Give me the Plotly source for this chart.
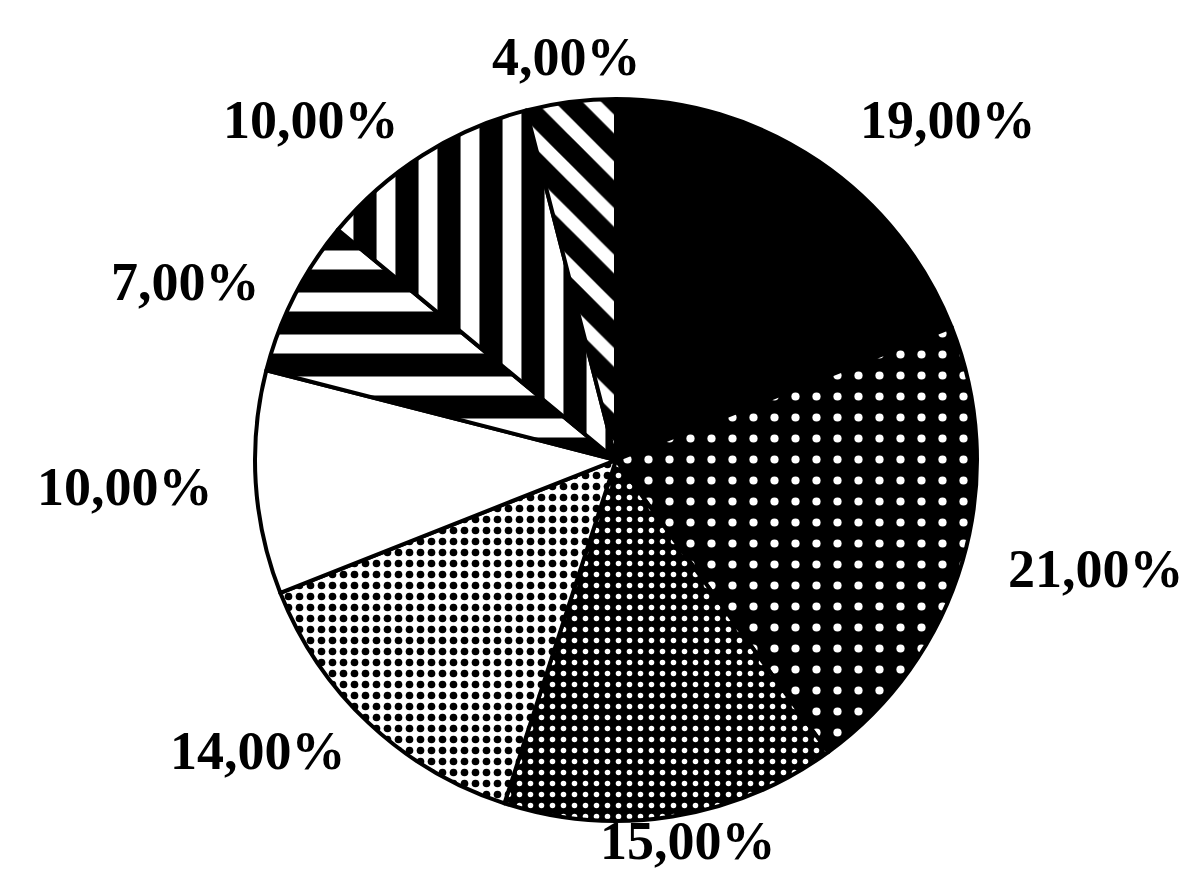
import math
import plotly.graph_objects as go

# slice shares, clockwise from 12 o'clock
shares = [19, 21, 15, 14, 10, 7, 10, 4]
labels = [f"{v:.2f}%".replace(".", ",") for v in shares]

# fill styles per slice (black/white scan with hatching)
pat_shape = ["", ".", ".", ".", "", "-", "|", "\\"]
pat_bg = ["black", "black", "black", "white", "white", "white", "white", "white"]
pat_fg = ["black", "white", "white", "black", "white", "black", "black", "black"]
pat_size = [10, 21, 11, 11, 10, 42, 42, 33]
pat_solid = [0.3, 0.12, 0.2, 0.38, 0.3, 0.55, 0.55, 0.6]

W, H = 1193, 875
cx, cy, rad = 617, 460, 361  # pie centre / radius in px
pie_dx, pie_dy = -9, -8      # small correction for plotly's own placement

# label placement: radial distance (px) and angle nudge (deg) per slice
lbl_r = [469, 483, 386, 468, 501, 474, 463, 407]
lbl_nudge = [9.3, -3.2, -0.4, 8.4, 0.5, -5.0, -10.3, -1.0]

fig = go.Figure()
fig.add_trace(go.Pie(values=shares, sort=False, direction="clockwise", rotation=0,
                     textinfo="none", hoverinfo="none", showlegend=False,
                     marker=dict(colors=pat_bg, line=dict(color="black", width=4),
                                 pattern=dict(shape=pat_shape, bgcolor=pat_bg, fgcolor=pat_fg,
                                              size=pat_size, solidity=pat_solid, fillmode="replace")),
                     domain=dict(x=[(cx + pie_dx - rad) / W, (cx + pie_dx + rad) / W],
                                 y=[1 - (cy + pie_dy + rad) / H, 1 - (cy + pie_dy - rad) / H])))

total = sum(shares)
cum = 0
for i, v in enumerate(shares):
    mid = (cum + v / 2) / total * 360 + lbl_nudge[i]
    cum += v
    px = cx + lbl_r[i] * math.sin(math.radians(mid))
    py = cy - lbl_r[i] * math.cos(math.radians(mid))
    fig.add_annotation(x=px / W, y=1 - py / H, xref="paper", yref="paper", text=labels[i],
                       showarrow=False, xanchor="center", yanchor="middle", yshift=8,
                       font=dict(family="Liberation Serif", size=54, color="black", weight=700))

fig.update_layout(width=W, height=H, margin=dict(l=0, r=0, t=0, b=0),
                  paper_bgcolor="white", plot_bgcolor="white")

fig.write_html("out.html")
